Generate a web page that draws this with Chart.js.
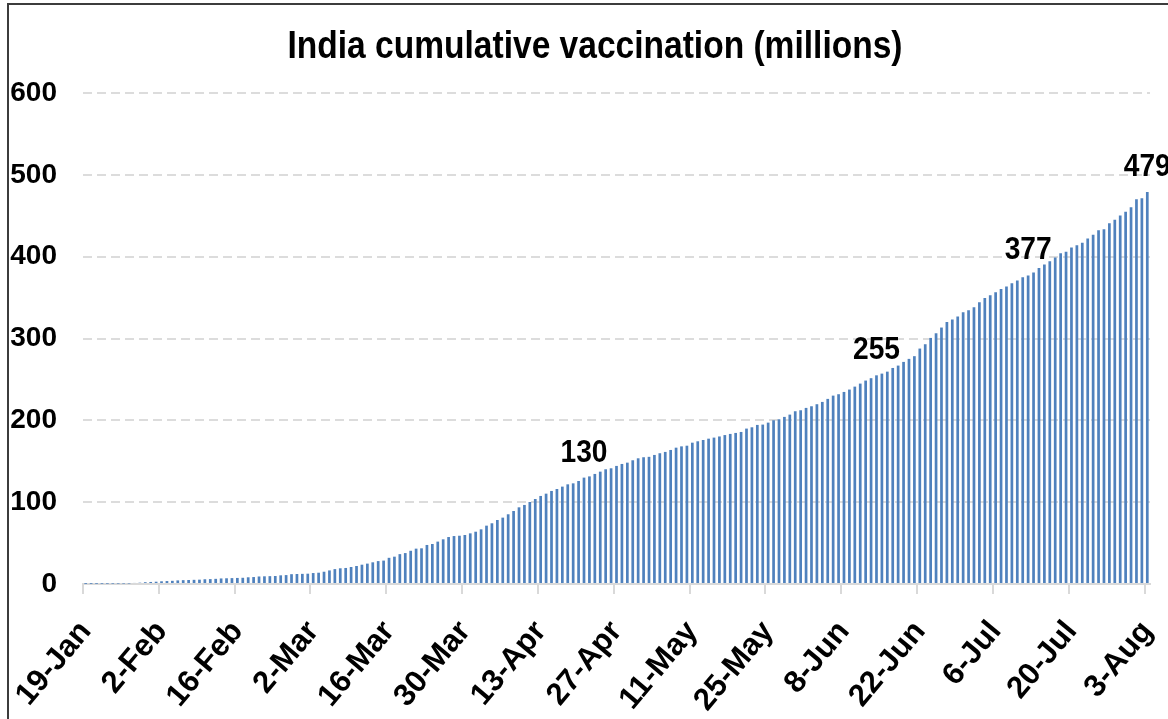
<!DOCTYPE html>
<html>
<head>
<meta charset="utf-8">
<title>India cumulative vaccination</title>
<script src="https://cdn.jsdelivr.net/npm/chart.js@4"></script>
<style>
  html, body { margin: 0; padding: 0; background: #fff; overflow: hidden; }
  #wrap { position: relative; width: 1168px; height: 719px; }
  #frame {
    position: absolute; left: 7px; top: 3px; width: 1300px; height: 900px;
    border: 2px solid #3c3c3c; pointer-events: none;
  }
  canvas { position: absolute; left: 0; top: 0; }
</style>
</head>
<body>
<div id="wrap">
  <canvas id="vaxChart" width="1168" height="719"></canvas>
  <div id="frame"></div>
</div>
<script>
// cumulative doses in millions, one value per day starting 19-Jan
const startDay = { year: 2021, month: 0, day: 19 };
const dosesMillions = [
  0.2, 0.25, 0.3, 0.35, 0.4, 0.45, 0.5, 0.55, 0.6, 1.3, 1.6, 2.2, 2.5, 2.8,
  3.3, 3.6, 3.9, 4.4, 4.7, 4.9, 5.1, 5.3, 5.8, 6.0, 6.3, 6.8, 7.0, 7.2,
  7.4, 7.6, 8.2, 8.5, 9.2, 9.4, 9.6, 9.8, 10.6, 10.9, 12.0, 12.2, 12.4, 12.6,
  13.4, 13.8, 15.0, 16.6, 18.2, 19.2, 19.6, 20.8, 22.0, 23.6, 24.9, 26.5, 28.0, 28.6,
  32.0, 33.4, 36.5, 37.8, 40.6, 43.2, 43.6, 47.7, 48.9, 51.8, 54.6, 57.4, 58.6, 59.0,
  59.9, 61.9, 63.9, 66.8, 71.3, 74.2, 78.2, 81.1, 85.2, 89.2, 93.7, 96.6, 100.2, 103.9,
  107.6, 110.4, 113.7, 116.1, 119.0, 121.8, 123.0, 125.9, 130.0, 131.5, 134.5, 137.3, 140.2, 141.4,
  144.3, 146.7, 148.3, 151.2, 153.6, 154.9, 155.4, 157.7, 159.8, 161.4, 163.8, 166.6, 168.2, 169.0,
  172.7, 174.4, 176.0, 177.6, 178.9, 180.3, 182.0, 183.4, 184.6, 185.8, 189.9, 191.5, 194.4, 194.8,
  197.2, 200.1, 201.3, 204.2, 207.0, 211.1, 212.3, 215.2, 217.2, 219.7, 222.5, 226.2, 230.2, 231.9,
  234.7, 237.6, 241.2, 244.9, 248.6, 251.5, 255.0, 257.1, 259.5, 264.0, 266.9, 271.4, 275.1, 278.4,
  287.7, 293.0, 300.7, 306.4, 313.4, 320.3, 323.1, 326.8, 332.0, 334.4, 338.2, 344.3, 349.4, 352.9,
  356.6, 360.6, 363.5, 367.6, 370.8, 374.9, 377.0, 380.6, 386.3, 390.4, 394.5, 398.9, 404.2, 405.9,
  411.2, 414.1, 416.9, 422.2, 426.7, 432.4, 433.6, 440.9, 445.0, 450.3, 454.8, 460.5, 470.3, 471.5,
  479.0
];

// fortnightly labels shown on the date axis
const tickLabels = [
  "19-Jan", "2-Feb", "16-Feb", "2-Mar", "16-Mar", "30-Mar", "13-Apr", "27-Apr",
  "11-May", "25-May", "8-Jun", "22-Jun", "6-Jul", "20-Jul", "3-Aug"
];

// days that get a value printed above the bar
const labelledDays = ["21-Apr", "14-Jun", "12-Jul", "3-Aug"];

const yTicks = [0, 100, 200, 300, 400, 500, 600];

const monthNames = ["Jan", "Feb", "Mar", "Apr", "May", "Jun", "Jul", "Aug", "Sep", "Oct", "Nov", "Dec"];

function buildDayLabels(count) {
  const out = [];
  for (let i = 0; i < count; i++) {
    const d = new Date(startDay.year, startDay.month, startDay.day + i);
    out.push(d.getDate() + "-" + monthNames[d.getMonth()]);
  }
  return out;
}

const dayLabels = buildDayLabels(dosesMillions.length);

const FONT = "'Liberation Sans', Arial, sans-serif";
const AXIS_GREY = "#d9d9d9";
const BAR_BLUE = "#4f81bd";

// title and value labels, drawn slightly condensed like the Excel original
const overlayPlugin = {
  id: "overlay",
  afterDatasetsDraw(chart) {
    const ctx = chart.ctx;
    const meta = chart.getDatasetMeta(0);

    ctx.save();
    ctx.fillStyle = "#000";
    ctx.textAlign = "center";
    ctx.textBaseline = "alphabetic";

    ctx.save();
    ctx.translate(595, 58);
    ctx.scale(0.86, 1);
    ctx.font = "bold 39px " + FONT;
    ctx.fillText("India cumulative vaccination (millions)", 0, 0);
    ctx.restore();

    labelledDays.forEach((day) => {
      const i = dayLabels.indexOf(day);
      if (i < 0) return;
      const bar = meta.data[i];
      ctx.save();
      ctx.translate(bar.x, bar.y - 16);
      ctx.scale(0.88, 1);
      ctx.font = "bold 32px " + FONT;
      ctx.fillText(String(Math.round(dosesMillions[i])), 0, 0);
      ctx.restore();
    });
    ctx.restore();
  }
};

new Chart(document.getElementById("vaxChart"), {
  type: "bar",
  data: {
    labels: dayLabels,
    datasets: [{
      data: dosesMillions,
      backgroundColor: BAR_BLUE,
      barPercentage: 0.5,
      categoryPercentage: 1.0
    }]
  },
  options: {
    responsive: false,
    animation: false,
    layout: { padding: { left: 0, right: 18, top: 93, bottom: 0 } },
    plugins: {
      legend: { display: false },
      title: { display: false },
      tooltip: { enabled: false }
    },
    scales: {
      x: {
        offset: true,
        afterFit(scale) {
          // fixed axis band; rotated labels must not squeeze the plot sideways
          scale.height = 135;
          scale.paddingLeft = 0;
          scale.paddingRight = 0;
        },
        border: { display: true, color: AXIS_GREY, width: 2 },
        grid: {
          offset: true,
          drawOnChartArea: false,
          drawTicks: true,
          tickLength: 10,
          lineWidth: 2,
          color: (c) => tickLabels.includes(dayLabels[c.index]) ? AXIS_GREY : "transparent"
        },
        ticks: {
          autoSkip: false,
          minRotation: 50,
          maxRotation: 50,
          padding: 20,
          color: "#000",
          font: { family: FONT, size: 31, weight: "bold" },
          callback: (v, i) => tickLabels.includes(dayLabels[i]) ? dayLabels[i] : ""
        }
      },
      y: {
        min: 0,
        max: 600,
        afterFit(scale) { scale.width = 83; },
        afterBuildTicks(scale) { scale.ticks = yTicks.map((v) => ({ value: v })); },
        border: { display: false, dash: [9, 5] },
        grid: {
          drawTicks: false,
          lineWidth: 2,
          color: (c) => c.tick && c.tick.value === 0 ? "transparent" : "#dcdcdc"
        },
        ticks: {
          padding: 26,
          color: "#000",
          font: { family: FONT, size: 28, weight: "bold" }
        }
      }
    }
  },
  plugins: [overlayPlugin]
});
</script>
</body>
</html>
